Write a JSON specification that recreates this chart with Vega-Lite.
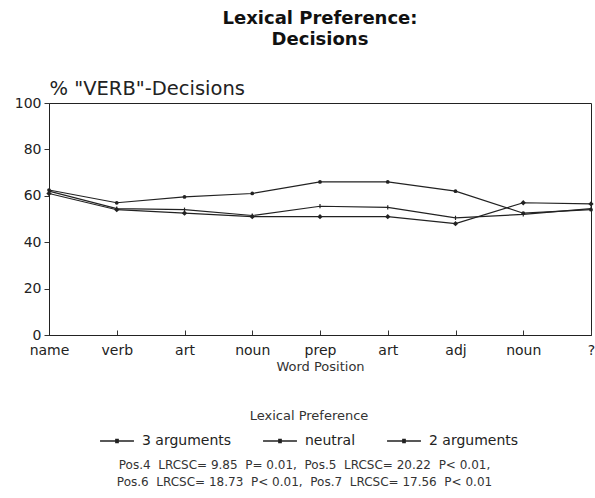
{
  "$schema": "https://vega.github.io/schema/vega-lite/v6.json",
  "background": "white",
  "padding": {"left": 13, "top": 9, "right": 3, "bottom": 5},
  "config": {
    "font": "DejaVu Sans",
    "view": {"stroke": "#222", "strokeWidth": 1},
    "concat": {"spacing": 0}
  },
  "title": {
    "text": ["Pos.4\u00a0\u00a0LRCSC=\u00a09.85\u00a0\u00a0P=\u00a00.01,\u00a0\u00a0Pos.5\u00a0\u00a0LRCSC=\u00a020.22\u00a0\u00a0P<\u00a00.01,", "Pos.6\u00a0\u00a0LRCSC=\u00a018.73\u00a0\u00a0P<\u00a00.01,\u00a0\u00a0Pos.7\u00a0\u00a0LRCSC=\u00a017.56\u00a0\u00a0P<\u00a00.01"],
    "orient": "bottom", "anchor": "middle", "fontSize": 12, "fontWeight": "normal",
    "lineHeight": 17, "offset": 12, "color": "#333"
  },
  "vconcat": [
    {
      "width": 542,
      "height": 232,
      "title": {"text": ["Lexical Preference:", "Decisions"], "fontSize": 18, "fontWeight": "bold", "lineHeight": 21, "offset": 29, "anchor": "middle", "color": "#111"},
      "data": {"values": [
        {"series": "3 arguments", "pos": 1, "value": 62.5},
        {"series": "3 arguments", "pos": 2, "value": 57},
        {"series": "3 arguments", "pos": 3, "value": 59.5},
        {"series": "3 arguments", "pos": 4, "value": 61},
        {"series": "3 arguments", "pos": 5, "value": 66},
        {"series": "3 arguments", "pos": 6, "value": 66},
        {"series": "3 arguments", "pos": 7, "value": 62},
        {"series": "3 arguments", "pos": 8, "value": 52.5},
        {"series": "3 arguments", "pos": 9, "value": 54},
        {"series": "neutral", "pos": 1, "value": 62},
        {"series": "neutral", "pos": 2, "value": 54.5},
        {"series": "neutral", "pos": 3, "value": 54},
        {"series": "neutral", "pos": 4, "value": 51.5},
        {"series": "neutral", "pos": 5, "value": 55.5},
        {"series": "neutral", "pos": 6, "value": 55},
        {"series": "neutral", "pos": 7, "value": 50.5},
        {"series": "neutral", "pos": 8, "value": 52},
        {"series": "neutral", "pos": 9, "value": 54.5},
        {"series": "2 arguments", "pos": 1, "value": 61},
        {"series": "2 arguments", "pos": 2, "value": 54},
        {"series": "2 arguments", "pos": 3, "value": 52.5},
        {"series": "2 arguments", "pos": 4, "value": 51},
        {"series": "2 arguments", "pos": 5, "value": 51},
        {"series": "2 arguments", "pos": 6, "value": 51},
        {"series": "2 arguments", "pos": 7, "value": 48},
        {"series": "2 arguments", "pos": 8, "value": 57},
        {"series": "2 arguments", "pos": 9, "value": 56.5}
      ]},
      "encoding": {
        "x": {
          "field": "pos", "type": "ordinal",
          "scale": {"type": "point", "padding": 0},
          "axis": {
            "labelExpr": "['name','verb','art','noun','prep','art','adj','noun','?'][datum.value-1]",
            "labelAngle": 0, "labelFontSize": 14, "labelColor": "#222", "labelPadding": 13,
            "tickSize": -5, "tickColor": "#333", "domainColor": "#222",
            "title": "Word Position", "titleFontSize": 13, "titleFontWeight": "normal", "titleColor": "#333", "titlePadding": 3
          }
        },
        "y": {
          "field": "value", "type": "quantitative",
          "scale": {"domain": [0, 100]},
          "axis": {
            "values": [0, 20, 40, 60, 80, 100], "grid": false,
            "labelFontSize": 14, "labelColor": "#222", "labelPadding": 3,
            "tickSize": 5, "tickColor": "#333", "domainColor": "#222",
            "title": "% \"VERB\"-Decisions", "titleAngle": 0, "titleAlign": "left", "titleBaseline": "bottom",
            "titleX": 0, "titleY": -5, "titleFontSize": 19.5, "titleFontWeight": "normal", "titleColor": "#222"
          }
        }
      },
      "layer": [
        {
          "mark": {"type": "line", "strokeWidth": 1.2},
          "encoding": {
            "color": {
              "field": "series", "type": "nominal",
              "scale": {"domain": ["3 arguments", "neutral", "2 arguments"], "range": ["#222", "#222", "#222"]},
              "legend": {
                "orient": "none", "legendX": 50, "legendY": 307, "direction": "horizontal",
                "title": "Lexical Preference", "titleFontSize": 13, "titleFontWeight": "normal", "titleColor": "#333",
                "titleOrient": "top", "titleAnchor": "middle", "titlePadding": 0,
                "labelFontSize": 14, "labelColor": "#222", "labelOffset": 7, "columnPadding": 28,
                "symbolType": "M-1,0L1,0M-0.07,-0.1L0.07,-0.1L0.07,0.1L-0.07,0.1Z", "symbolSize": 1150,
                "symbolStrokeWidth": 1.3, "symbolFillColor": "#222", "symbolStrokeColor": "#222"
              }
            }
          }
        },
        {
          "transform": [{"filter": "datum.series === '3 arguments'"}],
          "mark": {"type": "point", "filled": true, "size": 14, "shape": "circle", "color": "#222", "opacity": 1}
        },
        {
          "transform": [{"filter": "datum.series === 'neutral'"}],
          "mark": {"type": "point", "filled": false, "size": 50, "shape": "M0,-0.6L0,0.6", "color": "#222", "strokeWidth": 1.2, "opacity": 1}
        },
        {
          "transform": [{"filter": "datum.series === '2 arguments'"}],
          "mark": {"type": "point", "filled": true, "size": 28, "shape": "diamond", "color": "#222", "opacity": 1}
        }
      ]
    }
  ]
}
